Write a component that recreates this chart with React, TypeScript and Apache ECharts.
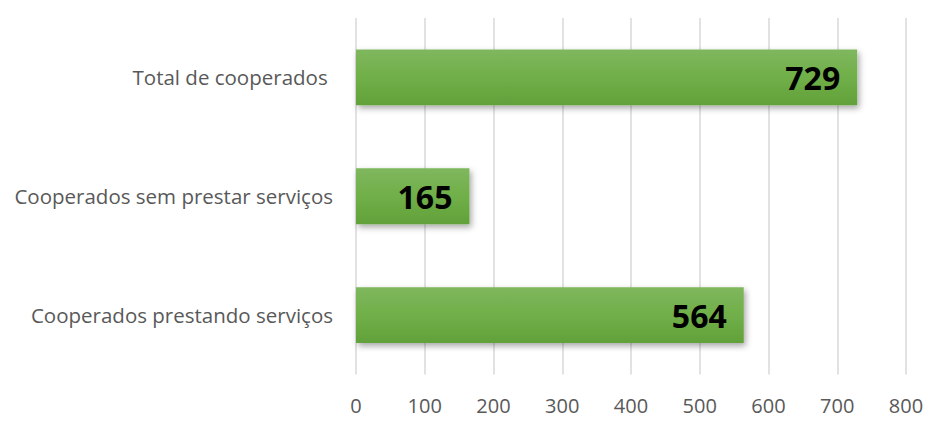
import React, { useEffect, useRef } from "react";
import * as echarts from "echarts";

const categories = [
  "Cooperados prestando serviços",
  "Cooperados sem prestar serviços",
  "Total de cooperados ",
];
const values = [564, 165, 729];
const xMin = 0;
const xMax = 800;
const xInterval = 100;

export default function App() {
  const ref = useRef<HTMLDivElement>(null);
  useEffect(() => {
    document.body.style.margin = "0";
    if (!ref.current) return;
    const chart = echarts.init(ref.current, null, { renderer: "svg" });
    chart.setOption({
      animation: false,
      grid: { left: 356, right: 35, top: 18, bottom: 54.5 },
      xAxis: {
        type: "value",
        min: xMin,
        max: xMax,
        interval: xInterval,
        axisLine: { show: false },
        axisTick: { show: false },
        splitLine: { show: true, lineStyle: { color: "#d9d9d9", width: 1.5 } },
        axisLabel: {
          color: "#595959",
          fontSize: 20,
          fontFamily: "Open Sans",
          margin: 21,
        },
      },
      yAxis: {
        type: "category",
        data: categories,
        axisLine: { show: false },
        axisTick: { show: false },
        axisLabel: {
          color: "#595959",
          fontSize: 20.5,
          fontFamily: "Open Sans",
          margin: 23,
        },
      },
      series: [
        {
          type: "bar",
          data: values,
          barCategoryGap: "53%",
          itemStyle: {
            color: new echarts.graphic.LinearGradient(0, 0, 0, 1, [
              { offset: 0, color: "#7fb75e" },
              { offset: 0.5, color: "#70af48" },
              { offset: 1, color: "#62a13a" },
            ]),
            shadowColor: "rgba(0,0,0,0.35)",
            shadowBlur: 6,
            shadowOffsetX: 2,
            shadowOffsetY: 3,
          },
          label: {
            show: true,
            position: "insideRight",
            distance: 17,
            color: "#000000",
            fontSize: 32,
            fontWeight: "bold",
            fontFamily: "Open Sans",
          },
        },
      ],
    });
    return () => chart.dispose();
  }, []);
  return <div ref={ref} style={{ width: 941, height: 429 }} />;
}
